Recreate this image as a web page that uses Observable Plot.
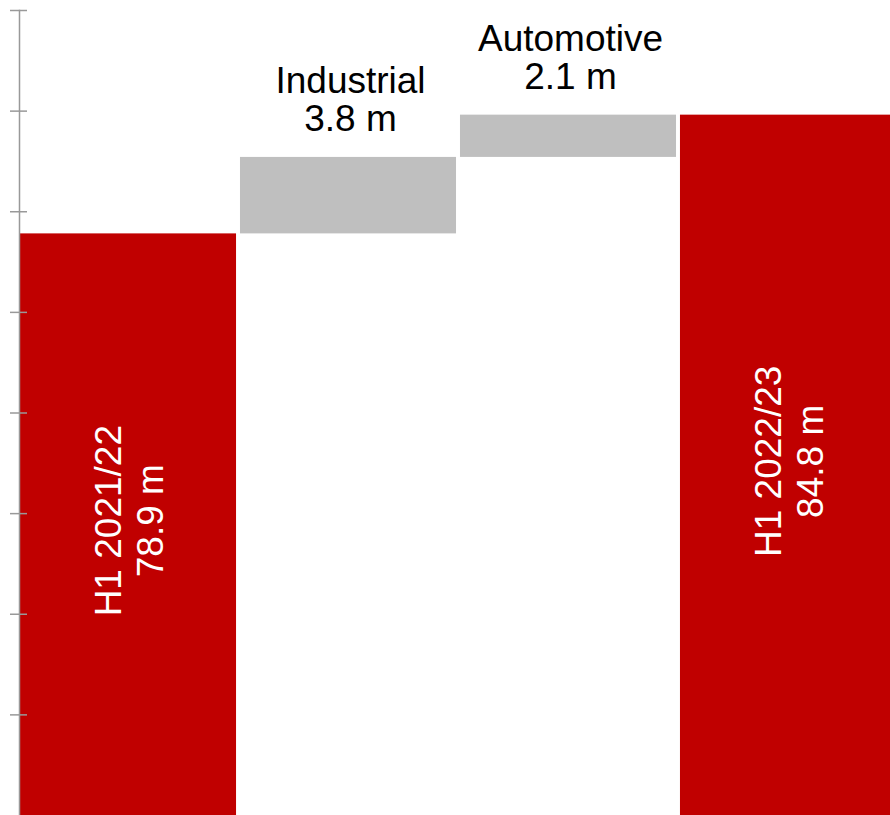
<!DOCTYPE html>
<html><head><meta charset="utf-8">
<script src="https://cdn.jsdelivr.net/npm/d3@7"></script>
<script src="https://cdn.jsdelivr.net/npm/@observablehq/plot@0.6"></script>
<style>body{margin:0;background:#fff} #chart{width:890px;height:815px;overflow:hidden}</style>
</head><body><div id="chart"></div>
<script>
const categories = ["H1 2021/22", "Industrial", "Automotive", "H1 2022/23"];
const values = [78.9, 3.8, 2.1, 84.8];
const kinds = ["total", "delta", "delta", "total"];
const valueLabels = ["78.9 m", "3.8 m", "2.1 m", "84.8 m"];
const yDomain = [50, 90];
const yTicks = [55, 60, 65, 70, 75, 80, 85, 90];

let running = 0;
const rows = categories.map((c, i) => {
  let y1, y2;
  if (kinds[i] === "total") { y1 = 0; y2 = values[i]; running = values[i]; }
  else { y1 = running; y2 = running + values[i]; running = y2; }
  return {category: c, kind: kinds[i], y1, y2, label: c + "\n" + valueLabels[i]};
});
const totals = rows.filter(d => d.kind === "total");
const deltas = rows.filter(d => d.kind === "delta");

const chart = Plot.plot({
  width: 890, height: 815,
  marginLeft: 19, marginRight: 0, marginTop: 10, marginBottom: 0,
  style: {fontFamily: "'Liberation Sans', Arial, sans-serif", background: "white", color: "black"},
  x: {domain: categories, range: [20, 896], paddingInner: 0.018, paddingOuter: 0, round: false, axis: null},
  y: {domain: yDomain, axis: null},
  marks: [
    Plot.barY(totals, {x: "category", y1: "y1", y2: "y2", fill: "#C00000", clip: true}),
    Plot.barY(deltas, {x: "category", y1: "y1", y2: "y2", fill: "#BFBFBF", clip: true}),
    Plot.frame({anchor: "left", stroke: "#999", strokeWidth: 1.5}),
    Plot.axisY({ticks: yTicks, tickSize: 17, dx: 8, tickFormat: () => "", label: null, stroke: "#999", strokeWidth: 1.5}),
    Plot.text(totals, {x: "category", y: d => (yDomain[0] + d.y2) / 2, text: "label", rotate: -90, dy: -4, fill: "white", fontSize: 37, lineHeight: 1.135}),
    Plot.text(deltas, {x: "category", y: "y2", text: "label", lineAnchor: "bottom", dy: -26, dx: 2, fill: "black", fontSize: 37, lineHeight: 1.03})
  ]
});
document.getElementById("chart").append(chart);
</script>
</body></html>
